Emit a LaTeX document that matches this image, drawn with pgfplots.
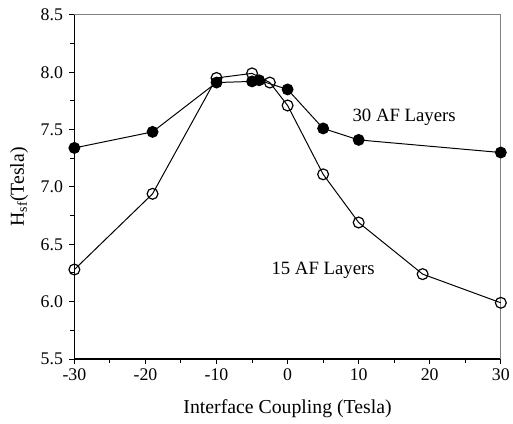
\documentclass[border=0pt]{standalone}
\usepackage{pgfplots}
\pgfplotsset{compat=1.18}
\usepackage{fontspec}
\setmainfont{Liberation Serif}
\begin{document}
\begin{tikzpicture}
\begin{axis}[
  scale only axis,
  width=430bp, height=347bp,
  xmin=-30, xmax=30, ymin=5.5, ymax=8.5,
  xtick={-30,-20,...,30}, minor xtick={-25,-15,...,25},
  ytick={5.5,6.0,...,8.5}, minor ytick={5.75,6.25,...,8.25},
  yticklabel style={/pgf/number format/fixed, /pgf/number format/fixed zerofill,
    /pgf/number format/precision=1, xshift=-3bp},
  /pgf/number format/assume math mode=true,
  tick label style={font=\fontsize{18}{21}\selectfont},
  xticklabel style={yshift=-1bp},
  label style={font=\fontsize{20}{24}\selectfont},
  axis x line*=bottom, axis y line*=left,
  axis line style={line width=1.3pt, -},
  tick align=outside,
  major tick length=5bp, minor tick length=4bp,
  tick style={black, line width=1pt},
  xlabel={Interface Coupling (Tesla)},
  ylabel={H$_{\mathrm{sf}}$(Tesla)},
  xlabel style={yshift=-12bp},
  ylabel style={yshift=6bp},
  clip=false,
]
\path (rel axis cs:0,0) ++(-75bp,-65bp) (rel axis cs:1,1) ++(0bp,15bp);
\draw[gray, line width=0.8pt] (rel axis cs:0,1) -- (rel axis cs:1,1) -- (rel axis cs:1,0);
\addplot[black, line width=1pt, mark=*, mark size=5.5pt, mark options={fill=black}]
  coordinates {(-30,7.34) (-19,7.48) (-10,7.91) (-5,7.92) (-4,7.93) (0,7.85) (5,7.51) (10,7.41) (30,7.30)};
\addplot[black, line width=1pt, mark=o, mark size=5.5pt, mark options={fill=white, line width=1.2pt}]
  coordinates {(-30,6.28) (-19,6.94) (-10,7.95) (-5,7.99) (-2.5,7.91) (0,7.71) (5,7.11) (10,6.69) (19,6.24) (30,5.99)};
\node[font=\fontsize{19}{22}\selectfont] at (axis cs:16.4,7.61) {30 AF Layers};
\node[font=\fontsize{19}{22}\selectfont] at (axis cs:5.0,6.27) {15 AF Layers};
\end{axis}
\end{tikzpicture}
\end{document}
